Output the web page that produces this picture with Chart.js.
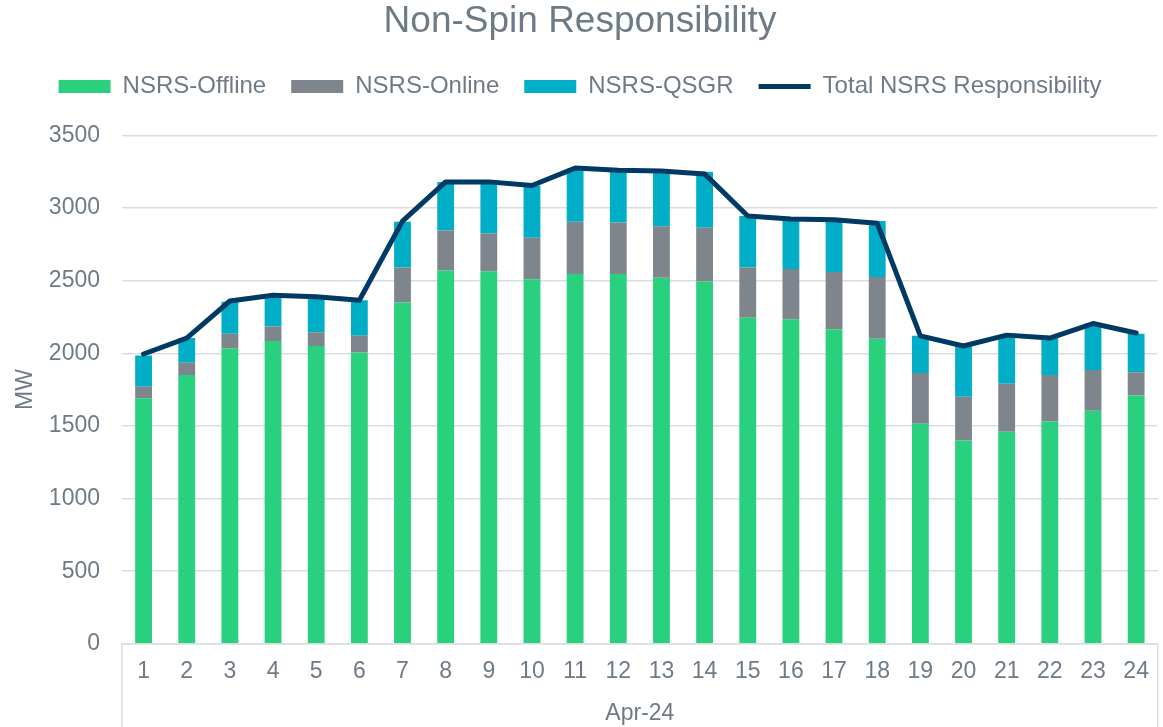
<!DOCTYPE html>
<html>
<head>
<meta charset="utf-8">
<script src="https://cdn.jsdelivr.net/npm/chart.js@4/dist/chart.umd.min.js"></script>
<style>
  html, body { margin: 0; padding: 0; background: #fff; }
  #wrap { width: 1163px; height: 727px; }
</style>
</head>
<body>
<div id="wrap"><canvas id="nsrsChart"></canvas></div>
<script>
// data (MW)
const hours = ['1','2','3','4','5','6','7','8','9','10','11','12','13','14','15','16','17','18','19','20','21','22','23','24'];
const offline = [1690,1850,2035,2085,2050,2005,2350,2570,2565,2510,2545,2545,2520,2495,2245,2235,2165,2100,1515,1400,1460,1530,1605,1710];
const online  = [80,85,100,100,95,115,240,275,260,285,360,355,355,370,345,345,395,425,350,300,330,320,280,160];
const qsgr    = [215,170,220,215,240,245,315,335,355,360,365,355,375,385,355,350,365,385,255,350,335,255,320,265];
const total   = [1995,2105,2360,2400,2390,2365,2910,3180,3180,3155,3275,3260,3255,3235,2945,2925,2920,2895,2120,2050,2125,2105,2205,2140];
const monthLabel = 'Apr-24';

const textColor = '#6e7b87';
const gridColor = '#d9dde2';
const fontFamily = '"Liberation Sans", Arial, sans-serif';

// category separator lines below the x axis
const separators = {
  id: 'separators',
  afterDraw(chart) {
    const { ctx, chartArea } = chart;
    ctx.save();
    ctx.strokeStyle = gridColor;
    ctx.lineWidth = 1.5;
    ctx.beginPath();
    ctx.moveTo(chartArea.left, chartArea.bottom);
    ctx.lineTo(chartArea.left, chart.height);
    ctx.moveTo(chartArea.right, chartArea.bottom);
    ctx.lineTo(chartArea.right, chart.height);
    ctx.stroke();
    ctx.restore();
  }
};

// extra room under the legend
const legendGap = {
  id: 'legendGap',
  beforeInit(chart) {
    const fit = chart.legend.fit;
    chart.legend.fit = function () {
      fit.bind(chart.legend)();
      this.height += 27;
    };
  }
};

const ctx = document.getElementById('nsrsChart').getContext('2d');
new Chart(ctx, {
  data: {
    labels: hours,
    datasets: [
      { type: 'bar', label: 'NSRS-Offline', data: offline, backgroundColor: '#29d07d', pointStyle: 'rect', order: 1, stack: 'nsrs' },
      { type: 'bar', label: 'NSRS-Online', data: online, backgroundColor: '#7e858c', pointStyle: 'rect', order: 1, stack: 'nsrs' },
      { type: 'bar', label: 'NSRS-QSGR', data: qsgr, backgroundColor: '#00afc7', pointStyle: 'rect', order: 1, stack: 'nsrs' },
      {
        type: 'line',
        label: 'Total NSRS Responsibility',
        data: total,
        borderColor: '#003963',
        backgroundColor: '#003963',
        borderWidth: 5,
        borderCapStyle: 'round',
        borderJoinStyle: 'round',
        pointRadius: 0,
        pointStyle: 'line',
        tension: 0,
        order: 0,
        stack: 'total'
      }
    ]
  },
  options: {
    responsive: true,
    maintainAspectRatio: false,
    animation: false,
    layout: { padding: { left: 0, right: 3, top: 0, bottom: 0 } },
    datasets: {
      bar: { barPercentage: 0.39, categoryPercentage: 1.0 }
    },
    plugins: {
      title: {
        display: true,
        text: 'Non-Spin Responsibility',
        color: textColor,
        font: { family: fontFamily, size: 37, weight: 'normal' },
        padding: { top: 0, bottom: 5 }
      },
      legend: {
        position: 'top',
        labels: {
          color: textColor,
          font: { family: fontFamily, size: 24 },
          usePointStyle: true,
          pointStyleWidth: 52,
          boxHeight: 13,
          padding: 25,
          sort: (a, b) => a.datasetIndex - b.datasetIndex
        }
      },
      tooltip: { enabled: false }
    },
    scales: {
      x: {
        stacked: true,
        grid: { display: false, drawTicks: false },
        border: { display: true, color: gridColor, width: 1.5 },
        ticks: { color: textColor, font: { family: fontFamily, size: 23 }, padding: 14 },
        title: {
          display: true,
          text: monthLabel,
          color: textColor,
          font: { family: fontFamily, size: 23 },
          padding: { top: 0, bottom: 0 }
        }
      },
      y: {
        stacked: true,
        min: 0,
        max: 3500,
        afterFit(scale) { scale.width = 122; },
        grid: { color: gridColor, lineWidth: 1.5, drawTicks: false },
        border: { display: false },
        ticks: {
          stepSize: 500,
          color: textColor,
          font: { family: fontFamily, size: 23 },
          padding: 22,
          callback: (v) => String(v)
        },
        title: {
          display: true,
          text: 'MW',
          color: textColor,
          font: { family: fontFamily, size: 23 },
          padding: { top: 12, bottom: 0 }
        }
      }
    }
  },
  plugins: [separators, legendGap]
});
</script>
</body>
</html>
